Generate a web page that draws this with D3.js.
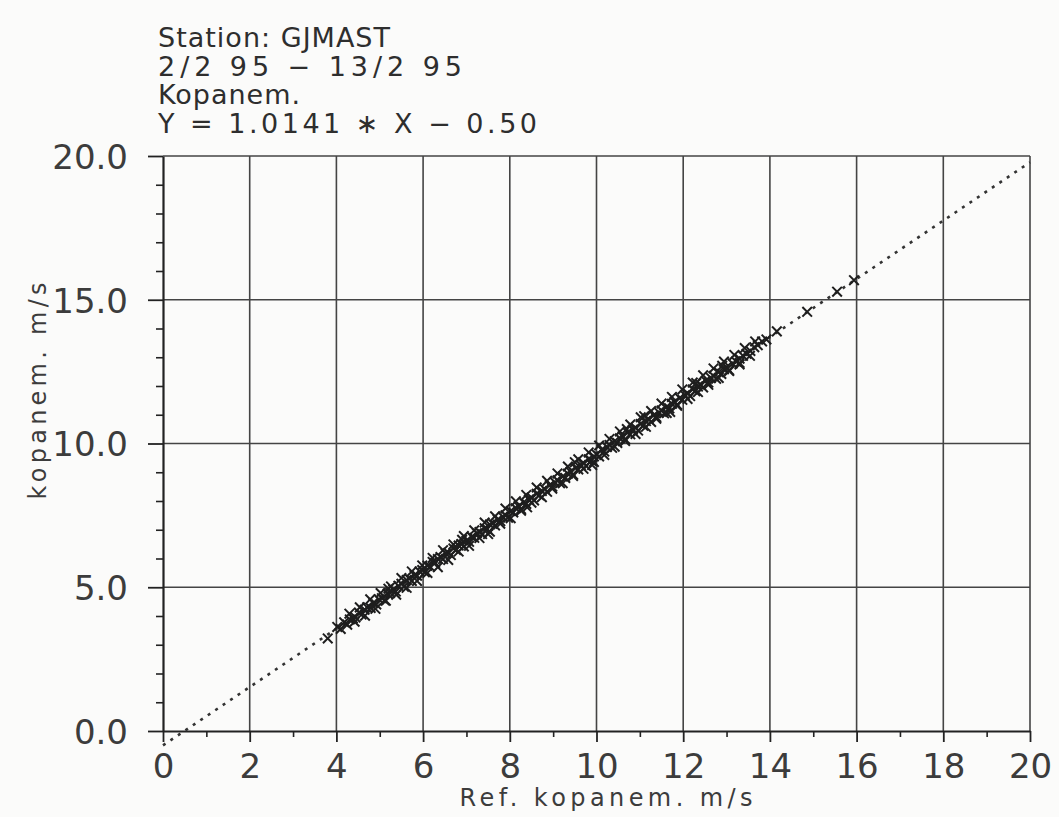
<!DOCTYPE html>
<html>
<head>
<meta charset="utf-8">
<script src="https://cdn.jsdelivr.net/npm/d3@7"></script>
<style>
  body { margin: 0; background: #fbfbfa; }
  svg { display: block; }
  .tick text { font-family: "DejaVu Sans", sans-serif; fill: #3c3c3c; }
  .axis path, .axis line { stroke: #222; }
</style>
</head>
<body>
<div id="chart"></div>
<script>
const svgWidth = 1059, svgHeight = 817, margin = { top: 156, right: 29, bottom: 86, left: 163 },
    width = svgWidth - margin.left - margin.right,
    height = svgHeight - margin.top - margin.bottom;

// header lines above the plot
const headerLines = ["Station: GJMAST", "2/2 95 \u2212 13/2 95", "Kopanem.", "Y = 1.0141 \u2217 X \u2212 0.50"];
const headerWidths = [232, 304, 142, 379];

// regression from the header
const slope = 1.0141, intercept = -0.50;

const xTicks = [0, 2, 4, 6, 8, 10, 12, 14, 16, 18, 20];
const xMinorTicks = [1, 3, 5, 7, 9, 11, 13, 15, 17, 19];
const yTicks = [0, 5, 10, 15, 20];
const yMinorTicks = [1, 2, 3, 4, 6, 7, 8, 9, 11, 12, 13, 14, 16, 17, 18, 19];

// reference anemometer vs tested cup anemometer, m/s
const refSpeed = [
  3.80, 4.02, 4.10, 4.18, 4.25, 4.31, 4.38, 4.44, 4.52, 4.58, 4.65, 4.71, 4.79, 4.85, 4.92, 4.98,
  5.05, 5.11, 5.18, 5.24, 5.31, 5.37, 5.43, 5.50, 5.56, 5.62, 5.68, 5.74, 5.80, 5.86, 5.92, 5.98,
  6.04, 6.10, 6.16, 6.22, 6.28, 6.34, 6.40, 6.46, 6.52, 6.58, 6.64, 6.70, 6.76, 6.82, 6.88, 6.94,
  7.00, 7.06, 7.12, 7.18, 7.24, 7.30, 7.36, 7.42, 7.48, 7.54, 7.60, 7.66, 7.72, 7.78, 7.84, 7.90,
  7.96, 8.02, 8.08, 8.14, 8.20, 8.26, 8.32, 8.38, 8.44, 8.50, 8.56, 8.62, 8.68, 8.74, 8.80, 8.86,
  8.92, 8.98, 9.04, 9.10, 9.16, 9.22, 9.28, 9.34, 9.40, 9.46, 9.52, 9.58, 9.64, 9.70, 9.76, 9.82,
  9.88, 9.94, 10.00, 10.06, 10.12, 10.18, 10.24, 10.30, 10.36, 10.42, 10.48, 10.54, 10.60, 10.66, 10.72, 10.78,
  10.84, 10.90, 10.96, 11.02, 11.08, 11.14, 11.20, 11.26, 11.32, 11.38, 11.44, 11.50, 11.56, 11.62, 11.68, 11.74,
  11.80, 11.86, 11.92, 11.98, 12.04, 12.10, 12.16, 12.22, 12.28, 12.34, 12.40, 12.46, 12.52, 12.58, 12.64, 12.70,
  12.76, 12.82, 12.88, 12.94, 13.00, 13.06, 13.14, 13.22, 13.30, 13.38, 13.46, 13.55, 13.64, 13.72, 13.82, 13.92,
  14.16, 14.86, 15.55, 15.94,
  5.20, 6.90, 7.50, 8.40, 9.50, 9.90, 10.70, 11.10, 11.70, 12.30, 12.90, 13.30,
  4.30, 4.42, 4.54, 4.66, 4.78, 4.90, 5.02, 5.14, 5.26, 5.38, 5.50, 5.62, 5.74, 5.86, 5.98, 6.10,
  6.22, 6.34, 6.46, 6.58, 6.70, 6.82, 6.94, 7.06, 7.18, 7.30, 7.42, 7.54, 7.66, 7.78, 7.90, 8.02,
  8.14, 8.26, 8.38, 8.50, 8.62, 8.74, 8.86, 8.98, 9.10, 9.22, 9.34, 9.46, 9.58, 9.70, 9.82, 9.94,
  10.06, 10.18, 10.30, 10.42, 10.54, 10.66, 10.78, 10.90, 11.02, 11.14, 11.26, 11.38, 11.50, 11.62, 11.74, 11.86,
  11.98, 12.10, 12.22, 12.34, 12.46, 12.58, 12.70, 12.82, 12.94, 13.06, 13.18, 13.30, 13.42, 13.54, 13.66
];
const testSpeed = [
  3.22, 3.62, 3.55, 3.78, 3.70, 3.88, 3.92, 3.95, 4.12, 4.05, 4.22, 4.30, 4.28, 4.45, 4.40, 4.58,
  4.62, 4.55, 4.78, 4.80, 4.92, 4.85, 5.05, 5.12, 5.02, 5.25, 5.30, 5.22, 5.42, 5.40, 5.55, 5.60,
  5.52, 5.75, 5.72, 5.88, 5.85, 5.98, 6.05, 5.98, 6.18, 6.20, 6.12, 6.35, 6.30, 6.45, 6.50, 6.42,
  6.62, 6.58, 6.75, 6.72, 6.88, 6.92, 6.85, 7.05, 7.02, 7.18, 7.22, 7.15, 7.35, 7.30, 7.45, 7.50,
  7.42, 7.65, 7.60, 7.75, 7.82, 7.72, 7.95, 7.90, 8.05, 8.12, 8.02, 8.25, 8.20, 8.35, 8.42, 8.32,
  8.55, 8.50, 8.65, 8.72, 8.62, 8.85, 8.80, 8.95, 9.02, 8.92, 9.15, 9.10, 9.25, 9.32, 9.22, 9.45,
  9.40, 9.55, 9.62, 9.55, 9.78, 9.72, 9.88, 9.95, 9.85, 10.08, 10.02, 10.18, 10.25, 10.15, 10.38, 10.32,
  10.48, 10.55, 10.45, 10.68, 10.62, 10.78, 10.85, 10.75, 10.98, 10.92, 11.08, 11.15, 11.05, 11.28, 11.22, 11.38,
  11.45, 11.35, 11.58, 11.52, 11.68, 11.75, 11.65, 11.88, 11.82, 11.98, 12.05, 11.95, 12.18, 12.12, 12.28, 12.35,
  12.25, 12.48, 12.42, 12.58, 12.65, 12.55, 12.78, 12.85, 12.95, 13.05, 13.12, 13.22, 13.35, 13.42, 13.55, 13.62,
  13.90, 14.58, 15.28, 15.68,
  4.95, 6.65, 6.85, 7.78, 9.35, 9.25, 10.50, 10.95, 11.10, 12.10, 12.70, 12.75,
  4.08, 3.80, 4.30, 4.01, 4.58, 4.25, 4.80, 4.53, 5.03, 4.74, 5.32, 4.98, 5.55, 5.22, 5.76, 5.50,
  6.02, 5.70, 6.29, 5.95, 6.49, 6.24, 6.78, 6.44, 6.98, 6.71, 7.25, 6.93, 7.47, 7.21, 7.74, 7.40,
  7.99, 7.66, 8.21, 7.94, 8.47, 8.13, 8.70, 8.43, 8.96, 8.62, 9.20, 8.87, 9.45, 9.12, 9.69, 9.36,
  9.93, 9.60, 10.16, 9.89, 10.42, 10.09, 10.66, 10.33, 10.91, 10.58, 11.13, 10.86, 11.39, 11.06, 11.62, 11.31,
  11.88, 11.55, 12.12, 11.79, 12.37, 12.04, 12.61, 12.28, 12.85, 12.52, 13.08, 12.80, 13.32, 13.05, 13.55
];

let svg = d3.select("#chart").append("svg")
    .attr("width", svgWidth)
    .attr("height", svgHeight);

svg.append("rect")
    .attr("width", svgWidth)
    .attr("height", svgHeight)
    .attr("fill", "#fbfbfa");

let g = svg.append("g")
    .attr("transform", "translate(" + margin.left + "," + margin.top + ")");

let xScale = d3.scaleLinear().domain([0, 20]).range([0, width]),
    yScale = d3.scaleLinear().domain([0, 20]).range([height, 0]);

// grid
g.append("g")
    .selectAll("line")
    .data(xTicks.slice(1))
    .join("line")
    .attr("x1", d => xScale(d)).attr("x2", d => xScale(d))
    .attr("y1", 0).attr("y2", height)
    .attr("stroke", "#444").attr("stroke-width", 1.6);
g.append("g")
    .selectAll("line")
    .data(yTicks.slice(1))
    .join("line")
    .attr("x1", 0).attr("x2", width)
    .attr("y1", d => yScale(d)).attr("y2", d => yScale(d))
    .attr("stroke", "#444").attr("stroke-width", 1.6);

// minor ticks
g.append("g")
    .attr("class", "axis")
    .attr("transform", `translate(0, ${height})`)
    .call(d3.axisBottom(xScale).tickValues(xMinorTicks).tickSize(6).tickFormat(""))
    .call(a => a.selectAll("line").attr("stroke-width", 1.6))
    .call(a => a.select(".domain").remove());
g.append("g")
    .attr("class", "axis")
    .call(d3.axisLeft(yScale).tickValues(yMinorTicks).tickSize(7).tickFormat(""))
    .call(a => a.selectAll("line").attr("stroke-width", 1.6))
    .call(a => a.select(".domain").remove());

// major axes
let xAxis = g.append("g")
    .attr("class", "axis")
    .attr("transform", `translate(0, ${height})`)
    .call(d3.axisBottom(xScale).tickValues(xTicks).tickSize(11).tickSizeOuter(0).tickPadding(12).tickFormat(d3.format("d")));
xAxis.selectAll("text").attr("font-size", 34);
xAxis.selectAll("line").attr("stroke-width", 1.8);
xAxis.select(".domain").attr("stroke-width", 2.2);

let yAxis = g.append("g")
    .attr("class", "axis")
    .call(d3.axisLeft(yScale).tickValues(yTicks).tickSize(15).tickSizeOuter(0).tickPadding(20).tickFormat(d3.format(".1f")));
yAxis.selectAll("text").attr("font-size", 34).attr("dy", "0.36em");
yAxis.selectAll("line").attr("stroke-width", 1.8);
yAxis.select(".domain").attr("stroke-width", 2.2);

// axis titles
svg.append("text")
    .attr("x", 606)
    .attr("y", 806)
    .attr("text-anchor", "middle")
    .attr("font-family", "DejaVu Sans, sans-serif")
    .attr("font-size", 24)
    .attr("fill", "#3c3c3c")
    .attr("textLength", 293)
    .attr("lengthAdjust", "spacing")
    .text("Ref. kopanem. m/s");

svg.append("text")
    .attr("transform", "translate(46, 391) rotate(-90)")
    .attr("text-anchor", "middle")
    .attr("font-family", "DejaVu Sans, sans-serif")
    .attr("font-size", 24)
    .attr("fill", "#3c3c3c")
    .attr("textLength", 217)
    .attr("lengthAdjust", "spacing")
    .text("kopanem. m/s");

// header block
svg.append("g")
    .selectAll("text")
    .data(headerLines)
    .join("text")
    .attr("x", 158)
    .attr("y", (d, i) => 47 + i * 28.7)
    .attr("font-family", "DejaVu Sans, sans-serif")
    .attr("font-size", 27)
    .attr("fill", "#2e2e2e")
    .attr("textLength", (d, i) => headerWidths[i])
    .attr("lengthAdjust", "spacing")
    .text(d => d);

// regression line
let lineX = [0, 20];
g.append("path")
    .datum(lineX)
    .attr("d", d3.line().x(d => xScale(d)).y(d => yScale(slope * d + intercept)))
    .attr("fill", "none")
    .attr("stroke", "#333")
    .attr("stroke-width", 2.6)
    .attr("stroke-dasharray", "3,6");

// data points as x markers
let points = refSpeed.map((d, i) => ({ ref: d, test: testSpeed[i] }));
let s = 4.8;
g.append("g")
    .selectAll("path")
    .data(points)
    .join("path")
    .attr("transform", d => `translate(${xScale(d.ref)}, ${yScale(d.test)})`)
    .attr("d", `M${-s},${-s}L${s},${s}M${-s},${s}L${s},${-s}`)
    .attr("stroke", "#1e1e1e")
    .attr("stroke-width", 2)
    .attr("fill", "none");
</script>
</body>
</html>
